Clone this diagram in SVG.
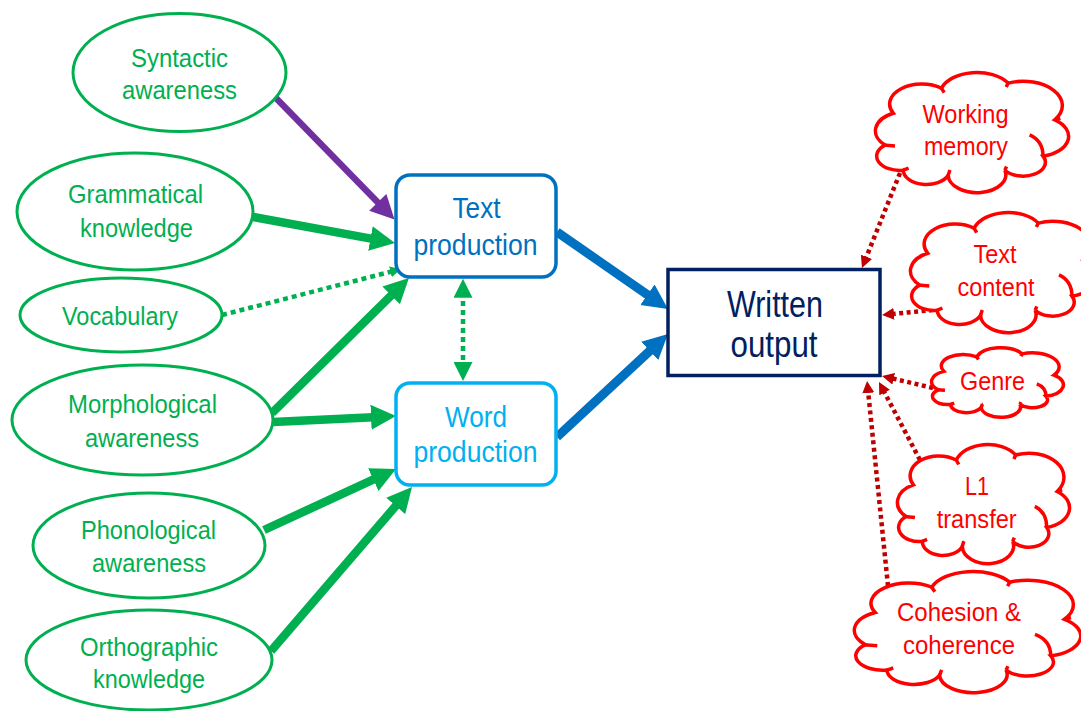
<svg xmlns="http://www.w3.org/2000/svg" xmlns:xlink="http://www.w3.org/1999/xlink" width="1081" height="711" viewBox="0 0 1081 711">
<style>
text{font-family:"Liberation Sans",Arial,sans-serif;text-anchor:middle}
.ell{fill:#fff;stroke:#00B050;stroke-width:3}
.et{fill:#00B050;font-size:25px}
.ct{fill:#FF0000;font-size:25px}
.cloud{fill:#fff;stroke:#FF0000;stroke-width:3.5}
.cin{fill:none;stroke:#FF0000;stroke-width:3.5}
.g{fill:none;stroke:#00B050;stroke-width:8.5}
.gd{fill:none;stroke:#00B050;stroke-width:4.5;stroke-dasharray:5 4}
.b{fill:none;stroke:#0070C0;stroke-width:9}
.rd{fill:none;stroke:#C00000;stroke-width:4.5;stroke-dasharray:4 3.5}
</style>
<defs>
<marker id="mG" viewBox="0 0 10 10" refX="3" refY="5" markerWidth="25" markerHeight="27" markerUnits="userSpaceOnUse" orient="auto"><path d="M0,0 L10,5 L0,10 Z" fill="#00B050"/></marker>
<marker id="mP" viewBox="0 0 10 10" refX="3" refY="5" markerWidth="25" markerHeight="24" markerUnits="userSpaceOnUse" orient="auto"><path d="M0,0 L10,5 L0,10 Z" fill="#7030A0"/></marker>
<marker id="mB" viewBox="0 0 10 10" refX="3" refY="5" markerWidth="25" markerHeight="27" markerUnits="userSpaceOnUse" orient="auto"><path d="M0,0 L10,5 L0,10 Z" fill="#0070C0"/></marker>
<marker id="mGs" viewBox="0 0 10 10" refX="3" refY="5" markerWidth="11" markerHeight="12" markerUnits="userSpaceOnUse" orient="auto"><path d="M0,0 L10,5 L0,10 Z" fill="#00B050"/></marker>
<marker id="mGd" viewBox="0 0 10 10" refX="3" refY="5" markerWidth="20" markerHeight="19" markerUnits="userSpaceOnUse" orient="auto-start-reverse"><path d="M0,0 L10,5 L0,10 Z" fill="#00B050"/></marker>
<marker id="mR" viewBox="0 0 10 10" refX="3" refY="5" markerWidth="12" markerHeight="12" markerUnits="userSpaceOnUse" orient="auto"><path d="M0,0 L10,5 L0,10 Z" fill="#C00000"/></marker>
<path id="cloudShape" vector-effect="non-scaling-stroke" d="M14.2,81.7 A12,12 0 0 1 4.7,60.6 A16.6,16.6 0 0 1 9,33.8 A16.8,16.8 0 0 1 34.1,12.7 A19.4,19.4 0 0 1 68.8,8.5 A20.4,20.4 0 0 1 93.1,39.4 A17,17 0 0 1 87,69.9 A11.6,11.6 0 0 1 67.1,81.7 A15,15 0 1 1 37.6,85.9 A12.1,12.1 0 0 1 14.2,81.7 Z"/>
<path id="cloudInner" vector-effect="non-scaling-stroke" d="M80,52 Q87,57 87,69.9 M3.8,60.6 L9.9,61.4 M14.2,81.7 L17,80 M37.6,85.9 L38.5,81.5 M67.1,81.7 L68,78.5 M34.1,12.7 L35.5,16.5 M68.8,8.5 L67.8,11.8 M93.1,39.4 L96,38"/>
</defs>
<rect width="1081" height="711" fill="#fff"/>

<g id="connectors">
<line x1="273" y1="95" x2="382.8" y2="207.5" stroke="#7030A0" stroke-width="6.5" marker-end="url(#mP)"/>
<line class="g" x1="253" y1="217" x2="377.8" y2="239.9" marker-end="url(#mG)"/>
<line class="gd" x1="222" y1="315" x2="393.6" y2="271" marker-end="url(#mGs)"/>
<line class="g" x1="272" y1="413" x2="396.5" y2="290.2" marker-end="url(#mG)"/>
<line class="g" x1="273" y1="422" x2="378.5" y2="416.9" marker-end="url(#mG)"/>
<line class="g" x1="264" y1="530" x2="380.1" y2="476.4" marker-end="url(#mG)"/>
<line class="g" x1="271" y1="651" x2="400.6" y2="500.3" marker-end="url(#mG)"/>
<line class="gd" x1="463" y1="292" x2="463" y2="367.7" marker-start="url(#mGd)" marker-end="url(#mGd)"/>
<line class="b" x1="557" y1="232" x2="653.6" y2="299" marker-end="url(#mB)"/>
<line class="b" x1="557" y1="437" x2="655.2" y2="345.9" marker-end="url(#mB)"/>
<line class="rd" x1="900" y1="173" x2="865.1" y2="260.2" marker-end="url(#mR)"/>
<line class="rd" x1="933" y1="310" x2="890.4" y2="314.2" marker-end="url(#mR)"/>
<line class="rd" x1="933" y1="388" x2="890.2" y2="377.9" marker-end="url(#mR)"/>
<line class="rd" x1="920" y1="460" x2="882.9" y2="389.4" marker-end="url(#mR)"/>
<line class="rd" x1="888" y1="586" x2="867.9" y2="389.4" marker-end="url(#mR)"/>
</g>

<g id="syntactic">
<ellipse class="ell" cx="179.5" cy="72.5" rx="106.5" ry="59"/>
<text class="et" x="179.5" y="67" textLength="97" lengthAdjust="spacingAndGlyphs">Syntactic</text>
<text class="et" x="179.5" y="99" textLength="115" lengthAdjust="spacingAndGlyphs">awareness</text>
</g>
<g id="grammatical">
<ellipse class="ell" cx="135" cy="211.5" rx="118" ry="58.5"/>
<text class="et" x="135.5" y="203" textLength="135" lengthAdjust="spacingAndGlyphs">Grammatical</text>
<text class="et" x="136.5" y="237" textLength="113" lengthAdjust="spacingAndGlyphs">knowledge</text>
</g>
<g id="vocabulary">
<ellipse class="ell" cx="121" cy="315" rx="101" ry="37"/>
<text class="et" x="120" y="325" textLength="116" lengthAdjust="spacingAndGlyphs">Vocabulary</text>
</g>
<g id="morphological">
<ellipse class="ell" cx="142.5" cy="420" rx="130.5" ry="55"/>
<text class="et" x="142.5" y="413" textLength="149" lengthAdjust="spacingAndGlyphs">Morphological</text>
<text class="et" x="142" y="447" textLength="114" lengthAdjust="spacingAndGlyphs">awareness</text>
</g>
<g id="phonological">
<ellipse class="ell" cx="149" cy="545.5" rx="116" ry="52.5"/>
<text class="et" x="148.5" y="539" textLength="135" lengthAdjust="spacingAndGlyphs">Phonological</text>
<text class="et" x="149" y="572" textLength="114" lengthAdjust="spacingAndGlyphs">awareness</text>
</g>
<g id="orthographic">
<ellipse class="ell" cx="149" cy="660" rx="123" ry="50"/>
<text class="et" x="149" y="656" textLength="138" lengthAdjust="spacingAndGlyphs">Orthographic</text>
<text class="et" x="149" y="688" textLength="112" lengthAdjust="spacingAndGlyphs">knowledge</text>
</g>

<g id="text-production">
<rect x="396" y="175" width="160" height="102" rx="14" fill="#fff" stroke="#0070C0" stroke-width="3.5"/>
<text x="476.5" y="218" fill="#0070C0" font-size="29" textLength="48" lengthAdjust="spacingAndGlyphs">Text</text>
<text x="475.5" y="255" fill="#0070C0" font-size="29" textLength="124" lengthAdjust="spacingAndGlyphs">production</text>
</g>
<g id="word-production">
<rect x="396" y="383" width="160" height="102" rx="14" fill="#fff" stroke="#00B0F0" stroke-width="3.5"/>
<text x="476" y="427" fill="#00B0F0" font-size="29" textLength="62" lengthAdjust="spacingAndGlyphs">Word</text>
<text x="475.5" y="462" fill="#00B0F0" font-size="29" textLength="124" lengthAdjust="spacingAndGlyphs">production</text>
</g>
<g id="written-output">
<rect x="668" y="269.5" width="212" height="106" fill="#fff" stroke="#002060" stroke-width="3.5"/>
<text x="775" y="317" fill="#002060" font-size="37" textLength="96" lengthAdjust="spacingAndGlyphs">Written</text>
<text x="774" y="357" fill="#002060" font-size="37" textLength="87" lengthAdjust="spacingAndGlyphs">output</text>
</g>

<g id="working-memory">
<use href="#cloudShape" class="cloud" transform="translate(876,73) scale(1.92,1.19)"/>
<use href="#cloudInner" class="cin" transform="translate(876,73) scale(1.92,1.19)"/>
<text class="ct" x="965.5" y="123" textLength="86" lengthAdjust="spacingAndGlyphs">Working</text>
<text class="ct" x="966" y="155" textLength="84" lengthAdjust="spacingAndGlyphs">memory</text>
</g>
<g id="text-content">
<use href="#cloudShape" class="cloud" transform="translate(911,213) scale(1.85,1.19)"/>
<use href="#cloudInner" class="cin" transform="translate(911,213) scale(1.85,1.19)"/>
<text class="ct" x="995" y="263" textLength="43" lengthAdjust="spacingAndGlyphs">Text</text>
<text class="ct" x="996" y="296" textLength="77" lengthAdjust="spacingAndGlyphs">content</text>
</g>
<g id="genre">
<use href="#cloudShape" class="cloud" transform="translate(932,348) scale(1.31,0.69)"/>
<use href="#cloudInner" class="cin" transform="translate(932,348) scale(1.31,0.69)"/>
<text class="ct" x="992.5" y="390" textLength="65" lengthAdjust="spacingAndGlyphs">Genre</text>
</g>
<g id="l1-transfer">
<use href="#cloudShape" class="cloud" transform="translate(898,445) scale(1.71,1.18)"/>
<use href="#cloudInner" class="cin" transform="translate(898,445) scale(1.71,1.18)"/>
<text class="ct" x="977" y="495" textLength="24" lengthAdjust="spacingAndGlyphs">L1</text>
<text class="ct" x="976.7" y="528" textLength="80" lengthAdjust="spacingAndGlyphs">transfer</text>
</g>
<g id="cohesion-coherence">
<use href="#cloudShape" class="cloud" transform="translate(855,572) scale(2.25,1.2)"/>
<use href="#cloudInner" class="cin" transform="translate(855,572) scale(2.25,1.2)"/>
<text class="ct" x="959" y="621" textLength="124" lengthAdjust="spacingAndGlyphs">Cohesion &amp;</text>
<text class="ct" x="959" y="654" textLength="112" lengthAdjust="spacingAndGlyphs">coherence</text>
</g>
</svg>
